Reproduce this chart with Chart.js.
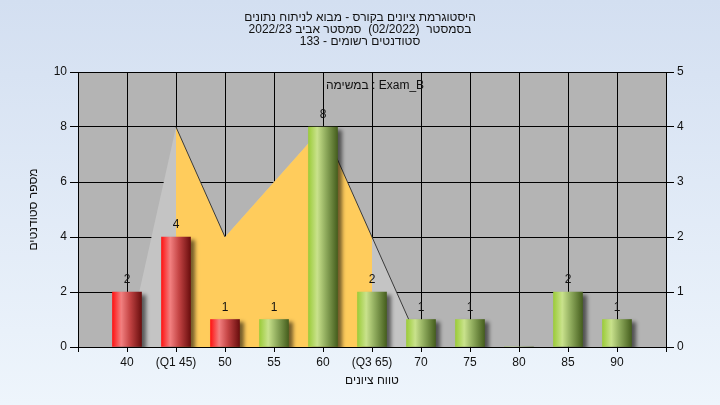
<!DOCTYPE html>
<html>
<head>
<meta charset="utf-8">
<script src="https://cdn.jsdelivr.net/npm/chart.js@4.4.0/dist/chart.umd.min.js"></script>
<style>
  html, body { margin: 0; padding: 0; }
  #wrap { width: 720px; height: 405px; }
</style>
</head>
<body>
<div id="wrap"><canvas id="histChart" width="720" height="405"></canvas></div>
<script>
// data
const grades = [40, 45, 50, 55, 60, 65, 70, 75, 80, 85, 90];
const counts = [2, 4, 1, 1, 8, 2, 1, 1, 0, 2, 1];
const tickNames = { 45: "(Q1 45)", 65: "(Q3 65)" };
const failLimit = 50; // bars up to here are red
const curveGrades = [40, 45, 50, 55, 60, 65, 70];
const curveValues = [0, 4, 2, 3, 4, 2, 0]; // right axis
const q1 = 45, q3 = 65;

const titleLines = [
  "היסטוגרמת ציונים בקורס - מבוא לניתוח נתונים",
  "בסמסטר  (02/2022)  סמסטר אביב 2022/23",
  "סטודנטים רשומים - 133"
];
const taskLabel = "במשימה : Exam_B";

const FONT = "'Liberation Sans', 'DejaVu Sans', Arial, sans-serif";
const TXT = "#111";

Chart.defaults.font.family = FONT;
Chart.defaults.font.size = 12;
Chart.defaults.color = TXT;

function barGradient(ctx) {
  const chart = ctx.chart;
  const x = chart.scales.x;
  const g = grades[ctx.dataIndex];
  const red = g <= failLimit;
  if (!x || g === undefined) return red ? "#d22" : "#8a4";
  const cx = x.getPixelForValue(g);
  if (!isFinite(cx)) return red ? "#d22" : "#8a4";
  const grad = chart.ctx.createLinearGradient(cx - 14.5, 0, cx + 14.5, 0);
  if (red) {
    grad.addColorStop(0, "#ff1414");
    grad.addColorStop(0.3, "#f28080");
    grad.addColorStop(0.6, "#c44444");
    grad.addColorStop(1, "#6a0e0e");
  } else {
    grad.addColorStop(0, "#9ccc3a");
    grad.addColorStop(0.3, "#c9e28c");
    grad.addColorStop(0.6, "#8eaa5c");
    grad.addColorStop(1, "#465f1e");
  }
  return grad;
}

const bgPlugin = {
  id: "bg",
  beforeDraw(chart) {
    const { ctx, chartArea: a } = chart;
    ctx.save();
    const g = ctx.createLinearGradient(0, 0, 0, chart.height);
    g.addColorStop(0, "#d3dff1");
    g.addColorStop(1, "#eef5fc");
    ctx.fillStyle = g;
    ctx.fillRect(0, 0, chart.width, chart.height);
    ctx.fillStyle = "#b4b4b4";
    ctx.fillRect(a.left, a.top, a.right - a.left, a.bottom - a.top);
    ctx.restore();
  }
};

const shadowPlugin = {
  id: "barShadow",
  beforeDatasetDraw(chart, args) {
    if (args.index !== 0) return;
    const ctx = chart.ctx;
    ctx.save();
    ctx.shadowColor = "rgba(0,0,0,0.55)";
    ctx.shadowOffsetX = 4;
    ctx.shadowOffsetY = 3;
    ctx.shadowBlur = 4;
  },
  afterDatasetDraw(chart, args) {
    if (args.index !== 0) return;
    chart.ctx.restore();
  }
};

const textPlugin = {
  id: "texts",
  afterDraw(chart) {
    const ctx = chart.ctx;
    const a = chart.chartArea;
    ctx.save();
    ctx.fillStyle = TXT;
    ctx.font = "12px " + FONT;
    ctx.textAlign = "center";
    ctx.textBaseline = "middle";

    // bar values
    const meta = chart.getDatasetMeta(0);
    meta.data.forEach((bar, i) => {
      if (!counts[i]) return;
      ctx.fillText(String(counts[i]), bar.x, bar.y - 12);
    });

    // task name inside the plot
    ctx.fillText(taskLabel, (a.left + a.right) / 2 + 3, a.top + 14);

    // title, right to left
    ctx.direction = "rtl";
    titleLines.forEach((line, i) => {
      ctx.fillText(line, 360, 18 + i * 12);
    });
    ctx.restore();
  }
};

const curvePoints = curveGrades.map((g, i) => ({ x: g, y: curveValues[i] }));

new Chart(document.getElementById("histChart"), {
  type: "bar",
  data: {
    datasets: [
      {
        type: "bar",
        label: "students",
        data: grades.map((g, i) => ({ x: g, y: counts[i] })),
        backgroundColor: barGradient,
        borderWidth: 0,
        barThickness: 29,
        yAxisID: "y",
        order: 0
      },
      {
        type: "line",
        label: "curve-edge",
        data: curvePoints,
        fill: false,
        borderWidth: 1,
        segment: {
          borderColor: c => c.p0.parsed.y > c.p1.parsed.y ? "#3a3a3a" : "rgba(0,0,0,0)"
        },
        pointRadius: 0,
        tension: 0,
        yAxisID: "y1",
        order: 1
      },
      {
        type: "line",
        label: "curve-mid",
        data: curvePoints.filter(p => p.x >= q1 && p.x <= q3),
        backgroundColor: "#ffcc5c",
        borderWidth: 0,
        fill: "origin",
        pointRadius: 0,
        tension: 0,
        yAxisID: "y1",
        order: 2
      },
      {
        type: "line",
        label: "curve",
        data: curvePoints,
        backgroundColor: "#c4c4c4",
        borderWidth: 0,
        fill: "origin",
        pointRadius: 0,
        tension: 0,
        yAxisID: "y1",
        order: 3
      }
    ]
  },
  options: {
    responsive: false,
    animation: false,
    layout: { padding: { top: 72, right: 0, bottom: 0, left: 0 } },
    plugins: {
      legend: { display: false },
      tooltip: { enabled: false },
      title: { display: false }
    },
    scales: {
      x: {
        type: "linear",
        min: 35,
        max: 95,
        offset: false,
        afterFit: s => { s.height = 58; },
        ticks: {
          stepSize: 5,
          color: TXT,
          padding: 3,
          maxRotation: 0,
          autoSkip: false,
          callback: v => (v < 40 || v > 90) ? "" : (tickNames[v] || String(v))
        },
        grid: { color: "#000", lineWidth: 1, tickLength: 5, drawTicks: true, offset: false },
        border: { color: "#000" },
        title: { display: true, text: "טווח ציונים", color: TXT, padding: { top: 0, bottom: 17 } }
      },
      y: {
        position: "left",
        min: 0,
        max: 10,
        afterFit: s => { s.width = 78; },
        ticks: { stepSize: 2, color: TXT, padding: 3 },
        grid: { color: "#000", lineWidth: 1, tickLength: 8 },
        border: { color: "#000" },
        title: { display: true, text: "מספר סטודנטים", color: TXT, padding: { top: 26, bottom: 0 } }
      },
      y1: {
        position: "right",
        min: 0,
        max: 5,
        afterFit: s => { s.width = 54; },
        ticks: { stepSize: 1, color: TXT, padding: 3 },
        grid: { drawOnChartArea: false, color: "#000", tickLength: 8 },
        border: { color: "#000" }
      }
    }
  },
  plugins: [bgPlugin, shadowPlugin, textPlugin]
});
</script>
</body>
</html>
